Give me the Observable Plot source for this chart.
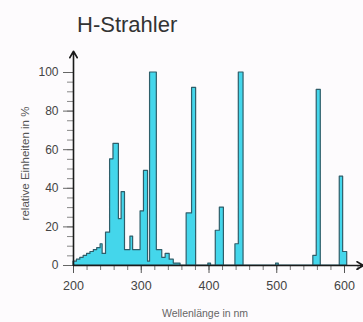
<!DOCTYPE html>
<html>
<head>
<meta charset="utf-8">
<script src="https://cdn.jsdelivr.net/npm/d3@7"></script>
<script src="https://cdn.jsdelivr.net/npm/@observablehq/plot@0.6"></script>
<style>
  html, body { margin: 0; padding: 0; background: #fdfbfd; }
  body { width: 363px; height: 322px; overflow: hidden; font-family: "Liberation Sans", Arial, sans-serif; }
  #title { height: 38px; box-sizing: border-box; padding-left: 77px; padding-top: 13px; font-size: 22px; line-height: 24px; color: #333; }
</style>
</head>
<body>
<div id="title">H-Strahler</div>
<div id="chart"></div>
<script>
// Bin edges (nm) and relative values (%) of the step spectrum
const edges = [200,205,210,215,220,225,230,235,240,243,248,254,259,267,271,276,284,288,299,304,310,313,323,331,336,342,348,358,367,375,381,399,403,410,416,422,439,444,451,499,503,554,559,565,593,598,604];
const values = [2,3,4,5,6,7,8,9,11,6,17,55,63,24,38,8,15,8,28,49,2,100,8,4,6,3,1,0,27,92,0,1,0,18,30,0,11,100,0,1,0,5,91,0,46,7,0];
const majorTicksX = [200,300,400,500,600];
const minorTicksX = d3.range(200, 621, 20);
const majorTicksY = [0,20,40,60,80,100];
const minorTicksY = d3.range(0, 101, 5);
const xLabel = "Wellenlänge in nm";
const yLabel = "relative Einheiten in %";

const spectrum = edges.map((e, i) => ({nm: e, v: values[i]}));

const chart = Plot.plot({
  width: 363,
  height: 284,
  marginLeft: 73,
  marginRight: 27,
  marginTop: 23,
  marginBottom: 57,
  style: {background: "transparent", fontFamily: "Liberation Sans, Arial, sans-serif"},
  x: {domain: [200, 600], range: [73, 344]},
  y: {domain: [0, 100], range: [227, 34]},
  marks: [
    Plot.areaY(spectrum, {x: "nm", y: "v", curve: "step-after", fill: "#44d6eb", stroke: "#2e5e6a", strokeWidth: 1.2}),
    Plot.axisX(minorTicksX, {tickSize: 5, stroke: "#777", strokeWidth: 1, text: null, label: null}),
    Plot.axisX(majorTicksX, {tickSize: 8, tickPadding: 8, stroke: "#555", fill: "#444", fontSize: 12.5, label: null, tickFormat: d => String(d)}),
    Plot.axisY(minorTicksY, {tickSize: 6, stroke: "#888", text: null, label: null}),
    Plot.axisY(majorTicksY, {tickSize: 10, tickPadding: 5, stroke: "#666", fill: "#444", fontSize: 12, label: null, tickFormat: d => String(d)}),
    Plot.arrow([{x1: 200, y1: 0, x2: 200, y2: 111}], {x1: "x1", y1: "y1", x2: "x2", y2: "y2", stroke: "#1a1a1a", strokeWidth: 1.6, headLength: 7}),
    Plot.arrow([{x1: 200, y1: 0, x2: 628, y2: 0}], {x1: "x1", y1: "y1", x2: "x2", y2: "y2", stroke: "#1a1a1a", strokeWidth: 1.6, headLength: 7}),
    Plot.text([xLabel], {frameAnchor: "bottom", dy: 48, fontSize: 10.5, fill: "#666", lineAnchor: "middle"}),
    Plot.text([yLabel], {frameAnchor: "left", dx: -48, rotate: -90, textAnchor: "middle", fontSize: 11.5, fill: "#555", lineAnchor: "middle"})
  ]
});
document.getElementById("chart").appendChild(chart);
</script>
</body>
</html>
